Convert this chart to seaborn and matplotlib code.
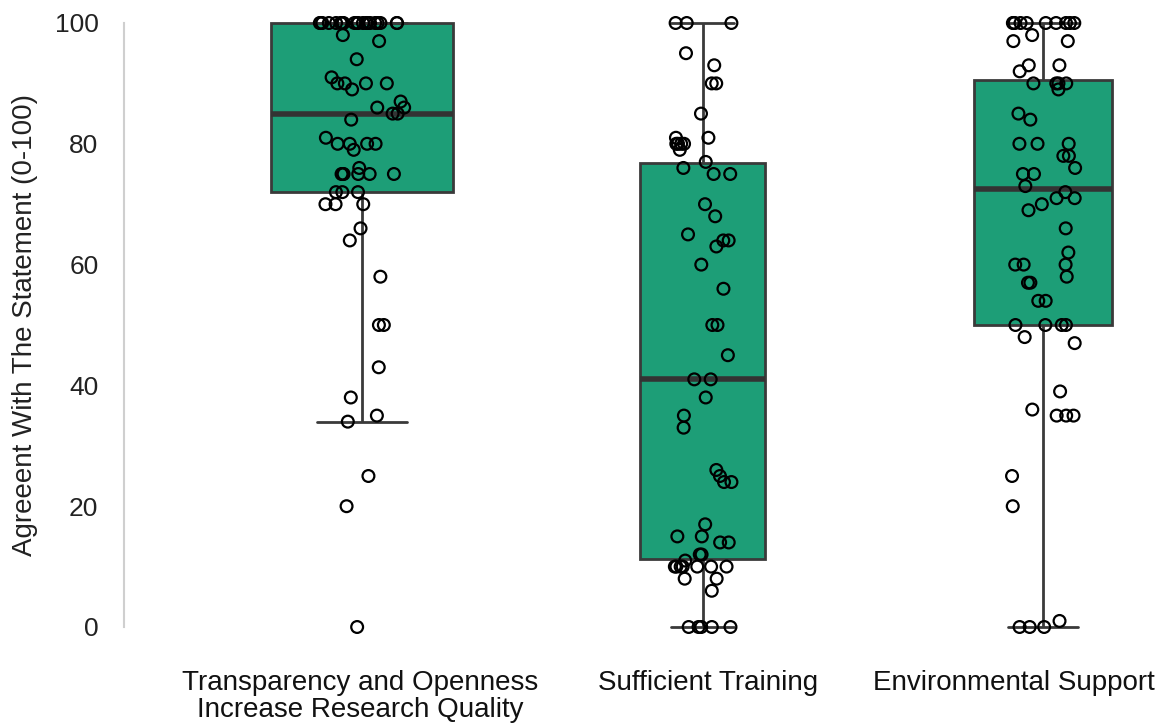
import numpy as np
import pandas as pd
import matplotlib
matplotlib.use("Agg")
import matplotlib.pyplot as plt
import matplotlib.transforms as mtransforms
import seaborn as sns

# ---------------- data ----------------
categories = ["Transparency and Openness\nIncrease Research Quality",
              "Sufficient Training",
              "Environmental Support"]

transparency = [100] * 20 + [98, 97, 94, 91, 90, 90, 90, 90, 89, 87, 86, 86, 85, 85,
                             84, 81, 80, 80, 80, 80, 79, 76, 75, 75, 75, 75, 75, 75,
                             72, 72, 72, 70, 70, 70, 66, 64, 58, 50, 50, 43, 38, 35,
                             34, 25, 20, 0]

training = [100, 100, 100, 95, 93, 90, 90, 85, 81, 81, 80, 80, 80, 80, 79, 77, 76,
            75, 75, 70, 68, 65, 64, 64, 63, 60, 56, 50, 50, 45, 41, 41, 38, 35, 33,
            26, 25, 24, 24, 17, 15, 15, 14, 14, 12, 12, 11,
            10, 10, 10, 10, 10, 10, 10, 8, 8, 6, 0, 0, 0, 0, 0]

environment = [100] * 10 + [98, 97, 97, 93, 93, 92, 90, 90, 90, 90, 89, 85, 84, 80,
                            80, 80, 78, 78, 76, 75, 75, 73, 72, 71, 71, 70, 69, 66,
                            62, 60, 60, 60, 58, 57, 57, 54, 54, 50, 50, 50, 50, 48,
                            47, 39, 36, 35, 35, 35, 25, 20, 1, 0, 0, 0]

series = [transparency, training, environment]
y_ticks = [0, 20, 40, 60, 80, 100]
y_label = "Agreeent With The Statement (0-100)"

df = pd.concat([pd.DataFrame({"item": c, "value": v}) for c, v in zip(categories, series)],
               ignore_index=True)

# ---------------- style ----------------
sns.set_style("white")
plt.rcParams["font.family"] = ["Liberation Sans", "DejaVu Sans"]

W, H = 1168, 727
fig = plt.figure(figsize=(W / 100, H / 100), dpi=100)

px_per_unit = 340.5
x0_px = 362
left_px, right_px = 124, 1168
ylo, yhi = -3, 103
top_px = 23 - 3 * 6.04
bot_px = 627 + 3 * 6.04
ax = fig.add_axes([left_px / W, 1 - bot_px / H,
                   (right_px - left_px) / W, (bot_px - top_px) / H])

box_color = "#1D9E77"
line_color = "#3a3a3a"
widths = [0.532, 0.370, 0.408]
jitters = [0.13, 0.09, 0.10]

np.random.seed(3)
for cat, w in zip(categories, widths):
    sub = df[df["item"] == cat]
    sns.boxplot(data=sub, x="item", y="value", order=categories, ax=ax,
                width=w, color=box_color, saturation=1, showfliers=False,
                linecolor=line_color, linewidth=2,
                medianprops=dict(color="#333333", linewidth=4),
                whiskerprops=dict(color=line_color, linewidth=2),
                capprops=dict(color=line_color, linewidth=2),
                boxprops=dict(edgecolor=line_color, linewidth=2))

for cat, j in zip(categories, jitters):
    sub = df[df["item"] == cat]
    sns.stripplot(data=sub, x="item", y="value", order=categories, ax=ax,
                  jitter=j, size=8.5, color="black", zorder=5)

for coll in ax.collections:
    if isinstance(coll, matplotlib.collections.PathCollection):
        coll.set_facecolor("none")
        coll.set_edgecolor("black")
        coll.set_linewidth(1.6)

ax.set_xlim((left_px - x0_px) / px_per_unit, (right_px - x0_px) / px_per_unit)
ax.set_ylim(ylo, yhi)

for s in ["top", "right", "bottom"]:
    ax.spines[s].set_visible(False)
ax.spines["left"].set_color("#cfcfcf")
ax.spines["left"].set_linewidth(1.5)
ax.spines["left"].set_bounds(0, 100)

ax.set_yticks(y_ticks)
ax.set_yticklabels([str(t) for t in y_ticks])
ax.tick_params(axis="y", length=9.4, width=1.5, color="#555555", pad=9,
               labelsize=19, labelcolor="#222222")
ax.set_xticks(range(len(categories)))
ax.set_xticklabels(categories)
ax.tick_params(axis="x", length=0, pad=18, labelsize=20, labelcolor="#111111")

offsets_px = [-2, 6, -29]
for lab, off in zip(ax.get_xticklabels(), offsets_px):
    lab.set_multialignment("center")
    lab.set_linespacing(1.02)
    lab.set_transform(lab.get_transform() +
                      mtransforms.ScaledTranslation(off / 100, 0, fig.dpi_scale_trans))

ax.set_xlabel("")
ax.set_ylabel(y_label, fontsize=20, color="#222222")
ax.yaxis.set_label_coords((38 - left_px) / (right_px - left_px), 0.5)

fig.savefig("out.png", dpi=100, facecolor="white")
